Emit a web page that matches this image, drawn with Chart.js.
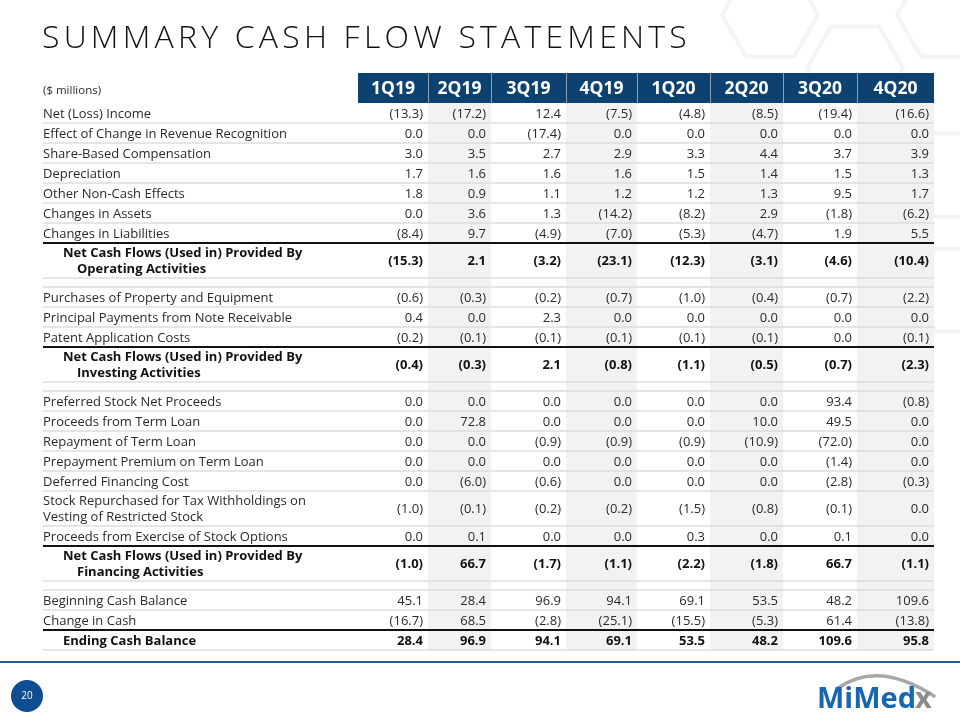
<!DOCTYPE html>
<html lang="en">
<head>
  <meta charset="UTF-8">
  <title>Summary Cash Flow Statements</title>
  <script src="https://cdn.jsdelivr.net/npm/chart.js"></script>
  <style>
    body { margin: 0; background: #fff; }
    #wrap { position: relative; width: 960px; height: 720px; }
  </style>
</head>
<body>
  <div id="wrap"><canvas id="cashChart"></canvas></div>

  <script>
    // quarters (columns)
    const quarters = ['1Q19', '2Q19', '3Q19', '4Q19', '1Q20', '2Q20', '3Q20', '4Q20'];

    // operating activities
    const netIncome          = [-13.3, -17.2, 12.4, -7.5, -4.8, -8.5, -19.4, -16.6];
    const revRecognition     = [0.0, 0.0, -17.4, 0.0, 0.0, 0.0, 0.0, 0.0];
    const shareBasedComp     = [3.0, 3.5, 2.7, 2.9, 3.3, 4.4, 3.7, 3.9];
    const depreciation       = [1.7, 1.6, 1.6, 1.6, 1.5, 1.4, 1.5, 1.3];
    const otherNonCash       = [1.8, 0.9, 1.1, 1.2, 1.2, 1.3, 9.5, 1.7];
    const changesAssets      = [0.0, 3.6, 1.3, -14.2, -8.2, 2.9, -1.8, -6.2];
    const changesLiabilities = [-8.4, 9.7, -4.9, -7.0, -5.3, -4.7, 1.9, 5.5];
    const netOperating       = [-15.3, 2.1, -3.2, -23.1, -12.3, -3.1, -4.6, -10.4];

    // investing activities
    const purchasesPPE = [-0.6, -0.3, -0.2, -0.7, -1.0, -0.4, -0.7, -2.2];
    const notePayments = [0.4, 0.0, 2.3, 0.0, 0.0, 0.0, 0.0, 0.0];
    const patentCosts  = [-0.2, -0.1, -0.1, -0.1, -0.1, -0.1, 0.0, -0.1];
    const netInvesting = [-0.4, -0.3, 2.1, -0.8, -1.1, -0.5, -0.7, -2.3];

    // financing activities
    const preferredStock    = [0.0, 0.0, 0.0, 0.0, 0.0, 0.0, 93.4, -0.8];
    const termLoanProceeds  = [0.0, 72.8, 0.0, 0.0, 0.0, 10.0, 49.5, 0.0];
    const termLoanRepayment = [0.0, 0.0, -0.9, -0.9, -0.9, -10.9, -72.0, 0.0];
    const prepaymentPremium = [0.0, 0.0, 0.0, 0.0, 0.0, 0.0, -1.4, 0.0];
    const deferredFinancing = [0.0, -6.0, -0.6, 0.0, 0.0, 0.0, -2.8, -0.3];
    const stockRepurchased  = [-1.0, -0.1, -0.2, -0.2, -1.5, -0.8, -0.1, 0.0];
    const optionProceeds    = [0.0, 0.1, 0.0, 0.0, 0.3, 0.0, 0.1, 0.0];
    const netFinancing      = [-1.0, 66.7, -1.7, -1.1, -2.2, -1.8, 66.7, -1.1];

    // cash balance
    const beginningCash = [45.1, 28.4, 96.9, 94.1, 69.1, 53.5, 48.2, 109.6];
    const changeInCash  = [-16.7, 68.5, -2.8, -25.1, -15.5, -5.3, 61.4, -13.8];
    const endingCash    = [28.4, 96.9, 94.1, 69.1, 53.5, 48.2, 109.6, 95.8];

    // table rows: kind = item | item2 (two lines) | total (bold, two lines) | spacer | grand
    const rows = [
      { kind: 'item', label: ['Net (Loss) Income'], values: netIncome },
      { kind: 'item', label: ['Effect of Change in Revenue Recognition'], values: revRecognition },
      { kind: 'item', label: ['Share-Based Compensation'], values: shareBasedComp },
      { kind: 'item', label: ['Depreciation'], values: depreciation },
      { kind: 'item', label: ['Other Non-Cash Effects'], values: otherNonCash },
      { kind: 'item', label: ['Changes in Assets'], values: changesAssets },
      { kind: 'item', label: ['Changes in Liabilities'], values: changesLiabilities },
      { kind: 'total', label: ['Net Cash Flows (Used in) Provided By', 'Operating Activities'], values: netOperating },
      { kind: 'spacer' },
      { kind: 'item', label: ['Purchases of Property and Equipment'], values: purchasesPPE },
      { kind: 'item', label: ['Principal Payments from Note Receivable'], values: notePayments },
      { kind: 'item', label: ['Patent Application Costs'], values: patentCosts },
      { kind: 'total', label: ['Net Cash Flows (Used in) Provided By', 'Investing Activities'], values: netInvesting },
      { kind: 'spacer' },
      { kind: 'item', label: ['Preferred Stock Net Proceeds'], values: preferredStock },
      { kind: 'item', label: ['Proceeds from Term Loan'], values: termLoanProceeds },
      { kind: 'item', label: ['Repayment of Term Loan'], values: termLoanRepayment },
      { kind: 'item', label: ['Prepayment Premium on Term Loan'], values: prepaymentPremium },
      { kind: 'item', label: ['Deferred Financing Cost'], values: deferredFinancing },
      { kind: 'item2', label: ['Stock Repurchased for Tax Withholdings on', 'Vesting of Restricted Stock'], values: stockRepurchased },
      { kind: 'item', label: ['Proceeds from Exercise of Stock Options'], values: optionProceeds },
      { kind: 'total', label: ['Net Cash Flows (Used in) Provided By', 'Financing Activities'], values: netFinancing },
      { kind: 'spacer' },
      { kind: 'item', label: ['Beginning Cash Balance'], values: beginningCash },
      { kind: 'item', label: ['Change in Cash'], values: changeInCash },
      { kind: 'grand', label: ['Ending Cash Balance'], values: endingCash }
    ];

    // layout (px units on the scales)
    const colEdges = [0, 315, 385, 448, 523, 594, 667, 740, 814, 891];
    const headerH = 30;
    const rowH = { item: 20, item2: 35, total: 35, spacer: 9, grand: 20 };

    const NAVY = '#0D4270';
    const TEXT = '#2a2a2a';
    const FONT = '"Open Sans", sans-serif';
    const BODY = '13px ' + FONT;
    const BODY_BOLD = 'bold 13px ' + FONT;

    // row top/bottom positions
    let yPos = headerH;
    rows.forEach(r => {
      r.top = yPos;
      yPos += rowH[r.kind];
      r.bottom = yPos;
    });
    const tableH = yPos;

    function fmt(v) {
      return v < 0 ? '(' + Math.abs(v).toFixed(1) + ')' : v.toFixed(1);
    }

    // one scatter dataset per quarter: a point at the right edge of each value cell
    const datasets = quarters.map((q, qi) => ({
      label: q,
      data: rows.filter(r => r.values).map(r => ({ x: colEdges[qi + 2], y: (r.top + r.bottom) / 2, v: r.values[qi], kind: r.kind })),
      pointRadius: 0,
      pointHoverRadius: 0
    }));

    function hexagon(ctx, cx, cy, r) {
      ctx.beginPath();
      for (let i = 0; i < 6; i++) {
        const a = Math.PI / 3 * i;
        const px = cx + r * Math.cos(a), py = cy + r * Math.sin(a);
        if (i === 0) ctx.moveTo(px, py); else ctx.lineTo(px, py);
      }
      ctx.closePath();
      ctx.stroke();
    }

    const tablePlugin = {
      id: 'tablePlugin',
      beforeDraw(chart) {
        const ctx = chart.ctx;
        ctx.save();
        ctx.fillStyle = '#fff';
        ctx.fillRect(0, 0, chart.width, chart.height);
        // faint hexagon pattern, top right
        ctx.strokeStyle = '#f4f4f4';
        ctx.lineWidth = 4;
        hexagon(ctx, 770, 15, 48);
        hexagon(ctx, 855, 68, 48);
        hexagon(ctx, 945, 15, 48);
        hexagon(ctx, 945, 175, 48);
        hexagon(ctx, 960, 290, 48);
        ctx.restore();
      },
      beforeDatasetsDraw(chart) {
        const ctx = chart.ctx;
        const xs = chart.scales.x, ys = chart.scales.y;
        const X = v => xs.getPixelForValue(v);
        const Y = v => ys.getPixelForValue(v);
        ctx.save();

        // shaded columns (2Q19, 4Q19, 2Q20, 4Q20)
        ctx.fillStyle = '#f2f2f2';
        for (let qi = 1; qi < quarters.length; qi += 2) {
          ctx.fillRect(X(colEdges[qi + 1]), Y(headerH), X(colEdges[qi + 2]) - X(colEdges[qi + 1]), Y(tableH) - Y(headerH));
        }

        // header boxes
        ctx.fillStyle = NAVY;
        ctx.fillRect(X(colEdges[1]), Y(0), X(colEdges[9]) - X(colEdges[1]), Y(headerH) - Y(0));
        ctx.strokeStyle = '#8aa3bd';
        ctx.lineWidth = 1;
        for (let qi = 1; qi < quarters.length; qi++) {
          const x = Math.round(X(colEdges[qi + 1])) + 0.5;
          ctx.beginPath();
          ctx.moveTo(x, Y(0));
          ctx.lineTo(x, Y(headerH));
          ctx.stroke();
        }
        ctx.fillStyle = '#fff';
        ctx.font = 'bold 17.5px ' + FONT;
        ctx.textAlign = 'center';
        ctx.textBaseline = 'middle';
        quarters.forEach((q, qi) => {
          ctx.fillText(q, (X(colEdges[qi + 1]) + X(colEdges[qi + 2])) / 2, Y(headerH / 2) + 1);
        });

        // row separators
        const left = X(0), right = X(colEdges[9]);
        rows.forEach((r, i) => {
          const next = rows[i + 1];
          const heavy = next && (next.kind === 'total' || next.kind === 'grand');
          ctx.strokeStyle = heavy ? '#111' : '#dcdcdc';
          ctx.lineWidth = heavy ? 2 : 1.5;
          ctx.beginPath();
          ctx.moveTo(left, Y(r.bottom));
          ctx.lineTo(right, Y(r.bottom));
          ctx.stroke();
        });
        ctx.restore();
      },
      afterDatasetsDraw(chart) {
        const ctx = chart.ctx;
        const xs = chart.scales.x, ys = chart.scales.y;
        const X = v => xs.getPixelForValue(v);
        const Y = v => ys.getPixelForValue(v);
        ctx.save();
        ctx.textBaseline = 'middle';

        // values, from the point elements
        chart.data.datasets.forEach((ds, di) => {
          const meta = chart.getDatasetMeta(di);
          meta.data.forEach((pt, i) => {
            const d = ds.data[i];
            const bold = d.kind === 'total' || d.kind === 'grand';
            ctx.font = bold ? BODY_BOLD : BODY;
            ctx.fillStyle = bold ? '#111' : TEXT;
            ctx.textAlign = 'right';
            ctx.fillText(fmt(d.v), pt.x - 5, pt.y + 1);
          });
        });

        // row labels
        ctx.textAlign = 'left';
        rows.forEach(r => {
          if (!r.label) return;
          const mid = Y((r.top + r.bottom) / 2) + 1;
          if (r.kind === 'total') {
            ctx.font = BODY_BOLD;
            ctx.fillStyle = '#111';
            ctx.fillText(r.label[0], X(0) + 20, mid - 8);
            ctx.fillText(r.label[1], X(0) + 34, mid + 8);
          } else if (r.kind === 'grand') {
            ctx.font = BODY_BOLD;
            ctx.fillStyle = '#111';
            ctx.fillText(r.label[0], X(0) + 20, mid);
          } else if (r.kind === 'item2') {
            ctx.font = BODY;
            ctx.fillStyle = TEXT;
            ctx.fillText(r.label[0], X(0), mid - 8);
            ctx.fillText(r.label[1], X(0), mid + 8);
          } else {
            ctx.font = BODY;
            ctx.fillStyle = TEXT;
            ctx.fillText(r.label[0], X(0), mid);
          }
        });

        // units note beside header
        ctx.font = '11.5px ' + FONT;
        ctx.fillStyle = TEXT;
        ctx.fillText('($ millions)', X(0), Y(headerH / 2) + 3);

        // title
        ctx.font = '300 32px ' + FONT;
        ctx.fillStyle = '#111';
        ctx.letterSpacing = '4.2px';
        ctx.textBaseline = 'alphabetic';
        ctx.fillText('SUMMARY CASH FLOW STATEMENTS', 42, 48);
        ctx.letterSpacing = '0px';

        // footer rule
        ctx.fillStyle = '#235a93';
        ctx.fillRect(0, 661, chart.width, 2);

        // page number
        ctx.fillStyle = '#0f4c92';
        ctx.beginPath();
        ctx.arc(27, 696, 16, 0, Math.PI * 2);
        ctx.fill();
        ctx.fillStyle = '#fff';
        ctx.font = '10px ' + FONT;
        ctx.textAlign = 'center';
        ctx.textBaseline = 'middle';
        ctx.fillText('20', 27, 696);

        // logo
        ctx.strokeStyle = '#a8a8a8';
        ctx.lineWidth = 3.5;
        ctx.lineCap = 'round';
        ctx.beginPath();
        ctx.moveTo(838, 688);
        ctx.quadraticCurveTo(878, 660, 934, 696);
        ctx.stroke();
        ctx.textAlign = 'left';
        ctx.textBaseline = 'alphabetic';
        ctx.font = 'bold 29px ' + FONT;
        ctx.fillStyle = '#1766b2';
        ctx.fillText('MiMed', 817, 708);
        const w = ctx.measureText('MiMed').width;
        ctx.fillStyle = '#8c8c8c';
        ctx.fillText('x', 817 + w - 1, 708);
        ctx.restore();
      }
    };

    new Chart(document.getElementById('cashChart'), {
      type: 'scatter',
      data: { datasets: datasets },
      options: {
        responsive: true,
        maintainAspectRatio: false,
        animation: false,
        events: [],
        layout: { padding: { left: 43, right: 26, top: 73, bottom: 720 - 73 - tableH } },
        plugins: { legend: { display: false }, tooltip: { enabled: false }, title: { display: false } },
        scales: {
          x: { type: 'linear', display: false, min: 0, max: colEdges[9] },
          y: { type: 'linear', display: false, reverse: true, min: 0, max: tableH }
        }
      },
      plugins: [tablePlugin]
    });
  </script>
</body>
</html>
